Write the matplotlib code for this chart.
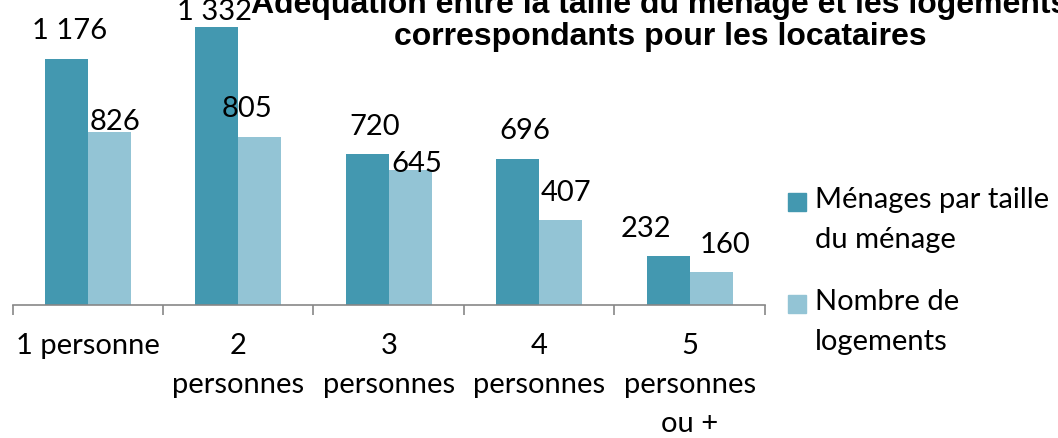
import numpy as np
import matplotlib
matplotlib.use("Agg")
from matplotlib import pyplot as plt
from matplotlib.patches import Rectangle

# data
categories = ["1 personne", "2\npersonnes", "3\npersonnes", "4\npersonnes", "5\npersonnes\nou +"]
menages = [1176, 1332, 720, 696, 232]
logements = [826, 805, 645, 407, 160]
series_names = ["Ménages par taille\ndu ménage", "Nombre de\nlogements"]
title_lines = ["Adéquation entre la taille du ménage et les logements",
               "correspondants pour les locataires"]

DARK = "#4398B0"
LIGHT = "#93C4D5"
FONT = "Lato"
FS = 21

# hand placed label offsets (pixels, from top-centre of each bar)
off_menages = [(3.5, 20), (-2.5, 6.5), (7.5, 19.5), (7, 20.5), (-22, 19.5)]
off_logements = [(6, 2.3), (-13, 19.7), (6.5, -1.9), (5.5, 19), (13.5, 18.5)]

W, H = 1058, 438
fig = plt.figure(figsize=(W / 100, H / 100), dpi=100)
ax = fig.add_axes([12.5 / W, (H - 305) / H, (765 - 12.5) / W, 292.7 / H])

x = np.arange(len(categories))
bw = 0.2857
b1 = ax.bar(x - bw / 2, menages, bw, color=DARK, linewidth=0)
b2 = ax.bar(x + bw / 2, logements, bw, color=LIGHT, linewidth=0)

def fmt(v):
  return f"{v:,}".replace(",", " ")

for bars, vals, offs in ((b1, menages, off_menages), (b2, logements, off_logements)):
  for bar, v, (dx, dy) in zip(bars, vals, offs):
    ax.annotate(fmt(v), (bar.get_x() + bar.get_width() / 2, v),
                xytext=(dx * 0.72, dy * 0.72), textcoords="offset points",
                ha="center", va="baseline", fontsize=FS, family=FONT)

ax.set_xlim(-0.5, len(categories) - 0.5)
ax.set_ylim(0, 1400)
ax.set_yticks([])
for s in ("left", "right", "top"):
  ax.spines[s].set_visible(False)
ax.spines["bottom"].set_color("#878787")
ax.spines["bottom"].set_linewidth(1.2)

ax.set_xticks(np.arange(len(categories) + 1) - 0.5)
ax.set_xticklabels([])
ax.tick_params(axis="x", which="major", length=7, width=1.2, color="#878787")
ax.set_xticks(x, minor=True)
ax.set_xticklabels(categories, minor=True, fontsize=FS, family=FONT, linespacing=1.62)
ax.tick_params(axis="x", which="minor", length=0, pad=20)

# legend drawn by hand so the square sits on the first text line
leg_y = [193, 295]
for name, col, y in zip(series_names, [DARK, LIGHT], leg_y):
  fig.patches.append(Rectangle((788 / W, 1 - (y + 18) / H), 18 / W, 18 / H,
                               transform=fig.transFigure, color=col))
  fig.text(815 / W, 1 - (y - 6) / H, name, ha="left", va="top",
           fontsize=FS, family=FONT, linespacing=1.68)

fig.text(660 / W, 1 - 13 / H, title_lines[0], ha="center", va="baseline",
         fontsize=23, family="Liberation Sans", weight="bold")
fig.text(660 / W, 1 - 45 / H, title_lines[1], ha="center", va="baseline",
         fontsize=23, family="Liberation Sans", weight="bold")

fig.savefig("out.png", dpi=100)
